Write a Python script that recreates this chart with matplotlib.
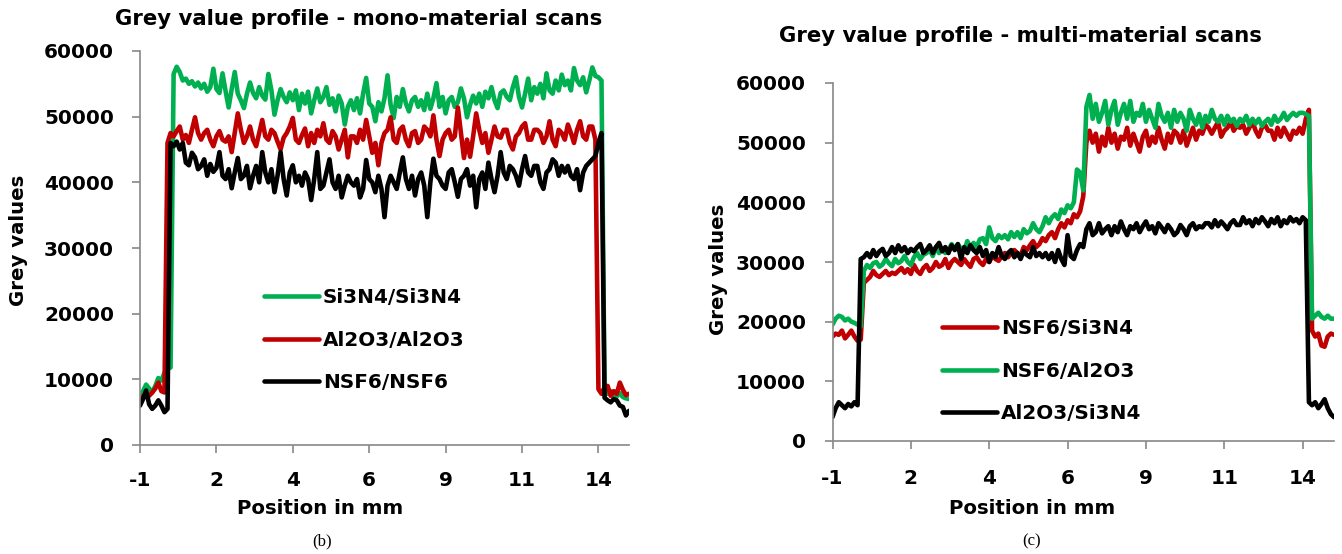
import numpy as np
import matplotlib
matplotlib.use("Agg")
import matplotlib.pyplot as plt

# ---------------- data ----------------
# sampling positions along the profile (mm), every 0.1 mm
position_mm = np.round(np.arange(-1.0, 15.0001, 0.1), 1)

tick_pos = [-1, 1.5, 4, 6.5, 9, 11.5, 14]
tick_labels = ["-1", "2", "4", "6", "9", "11", "14"]
y_ticks = [0, 10000, 20000, 30000, 40000, 50000, 60000]

# (b) mono-material scans
mono_si3n4 = [
    7500, 8200, 9200, 8600, 8000, 9000, 10200, 9800, 11000, 11600,
    11800, 56500, 57600, 56800, 55500, 55800, 55000, 55400, 54600, 55200,
    54300, 55000, 53800, 54500, 57300, 54200, 53600, 56600, 53900, 51400,
    54200, 56800, 53500, 52500, 51300, 53500, 55200, 53600, 52800, 54500,
    53200, 52600, 56500, 54000, 50300, 52500, 54200, 53000, 52200, 53700,
    52500, 54000, 51000, 53500, 52000, 53800, 50500, 52500, 54300, 52200,
    53000, 54500, 51800, 52800, 50800, 53200, 52000, 48800, 51500, 52500,
    51000, 52800, 50500, 53500, 55900, 52000, 51500, 49300, 52200, 50800,
    52800, 56300, 51800, 49800, 53000, 51500, 54200, 52000, 50800, 52500,
    53000, 51500, 52500, 51000, 53500, 51200, 52800, 55100, 51500, 53000,
    50500, 52500, 53000, 51500, 52200, 54300, 52800, 49900, 51800, 53200,
    52000, 53500, 51500, 53800, 52800, 54500, 52500, 51300, 53600, 54000,
    53000, 52500, 54500, 56000, 53000, 51400, 53500, 55800, 52500, 54500,
    53500, 55000, 52800, 56600, 54000, 53500, 55500, 54000, 56400, 54800,
    55500, 54000, 57400, 55500, 54800, 56000, 53700, 55500, 57500, 56200,
    56000, 55500, 8400, 7800, 8200, 7600, 7400, 7900, 7300, 7100,
    7000]
mono_al2o3 = [
    7000, 7400, 7800, 7500, 8000, 8600, 9500, 8200, 8000, 46000,
    47500, 47000, 47800, 48500, 46500, 47200, 46000, 48000, 49900, 47500,
    46500, 47500, 48000, 46500, 45500, 47000, 47800, 46500, 46200, 47000,
    44600, 47500, 50500, 48000, 46000, 47000, 48500, 46500, 45500, 47500,
    49500, 47000, 46500, 48000, 47500, 46200, 45000, 46800, 47500, 48500,
    49800, 46500, 46000, 47200, 48200, 45500, 47500, 46000, 48000, 47000,
    49000, 46500, 46000, 47800, 47000, 45000, 46500, 48000, 43800, 47000,
    47000, 46000, 48000, 46500, 49500, 47000, 44500, 46000, 42600, 46000,
    47500, 48000, 49900, 46500, 46000, 48000, 48500, 46500, 45500, 47500,
    47800, 46000, 46500, 48500, 48000, 47000, 50200, 46500, 44000, 46500,
    47500, 48000, 46500, 47000, 51400, 47500, 43700, 46500, 43900, 47000,
    50500, 48000, 46000, 47500, 44500, 46500, 48500, 47000, 46800, 48000,
    48000, 46000, 45000, 47000, 47500, 48500, 49000, 46500, 46500, 48000,
    48000, 47500, 46000, 47000, 49300, 46500, 45500, 48000, 47500, 46500,
    48800, 47500, 46000, 48000, 49300, 47000, 46500, 48500, 48500, 46500,
    8500, 7800, 8800, 9000, 7500, 8200, 7800, 9500, 8400, 7600,
    7800]
mono_nsf6 = [
    6000, 7000, 8300, 6200, 5500, 6000, 6800, 6000, 5000, 5500,
    46000, 45500, 46200, 45000, 46000, 43000, 42600, 44500, 43800, 42000,
    42500, 43500, 41000, 42800, 41600, 42200, 44600, 41000, 40500, 42000,
    39100, 41500, 43700, 40500, 41000, 42500, 39100, 41000, 42500, 40000,
    44600, 41500, 40000, 42000, 38500, 41000, 44600, 40500, 38000, 41500,
    42600, 40000, 41000, 39500, 41500, 40500, 37300, 40500, 44600, 39000,
    39500, 41500, 43500, 40000, 39000, 41000, 37700, 39500, 41000, 40000,
    39500, 40500, 37700, 39000, 43400, 40500, 40000, 38500, 41000, 39000,
    34700, 39500, 41000, 40000, 39000, 41500, 43800, 40500, 39000, 41000,
    38000, 40500, 41500, 39500, 34700, 40000, 43600, 41000, 40500, 39500,
    39000, 41500, 42000, 40000, 37800, 40500, 41000, 42000, 39500, 41000,
    36200, 40500, 41500, 39000, 43000, 40500, 38500, 41000, 44600, 41500,
    40500, 42500, 42000, 41000, 39500, 42000, 44000, 41500, 41000, 42500,
    42500, 40000, 39000, 41500, 42000, 43500, 43000, 41000, 42500, 41500,
    42500, 41000, 40500, 42000, 38800, 41500, 42500, 43000, 43500, 44000,
    46000, 47500, 7200, 6800, 6500, 7000, 6800, 6000, 5800, 4500,
    5200]

# (c) multi-material scans
multi_nsf6_si3n4 = [
    17500, 18000, 17800, 18500, 17200, 17800, 18500, 17500, 16800, 17000,
    26500, 27000, 27500, 28500, 27800, 27500, 28000, 28500, 27800, 28200,
    28000, 28500, 29000, 28200, 28800, 28000, 29500, 28500, 28000, 29000,
    29500, 28500, 29000, 30000, 29200, 29500, 30500, 29000, 30000, 30500,
    30000, 29500, 30500, 29800, 29200, 30500, 30800, 30000, 29500, 30500,
    30000, 31000, 30500, 30200, 31000, 31500, 30800, 31500, 32000, 31500,
    31000, 32500, 32000, 32800, 33500, 32500, 33000, 34000, 33500, 34500,
    35000, 34000, 35500, 36500, 35800, 37000, 36500, 38000, 37500, 38500,
    41000, 50000, 52000, 50000, 51500, 48500, 51000, 49500, 52500, 50000,
    51500, 49000, 51000, 50500, 52500, 49500, 51500, 50000, 48500, 51000,
    52000, 49500, 51000, 50000, 52500, 50500, 49000, 51500, 50000, 52000,
    51500, 50000, 52000, 49500, 51000, 52500, 50500, 52000, 51500, 53000,
    52500, 51500, 52500, 53500, 51000, 52000, 52500, 53500, 52000, 52800,
    52500, 53000, 51500, 52500, 53500, 52000, 51000, 52500, 53000, 52000,
    52000, 50500, 52500, 51000, 52500, 51500, 50500, 52000, 51500, 52500,
    51500, 54000, 55500, 18500, 17500, 18000, 16000, 15800, 17500, 18000,
    17800]
multi_nsf6_al2o3 = [
    19500, 20500, 21000, 20800, 20200, 20500, 20000, 19800, 19500, 19200,
    28500, 29500, 29000, 29800, 30000, 29200, 29600, 30500, 29800, 29300,
    30500, 29800, 30200, 31000, 30000, 29500, 30800, 31500, 30500, 31200,
    31500, 32000, 31000, 32500, 31500, 32200, 31500, 32000, 33000, 32200,
    33000, 32200, 31800, 33500, 32500, 33200, 32500, 33800, 34000, 33000,
    35800, 34000, 33500, 34500, 34000, 34500, 33800, 35000, 34200, 35000,
    34000, 35500, 34800, 35200, 36500, 35500, 35000, 36000, 37500, 36500,
    37500, 38000, 37200, 38800, 38200, 39500, 39000, 40000, 45500, 45000,
    42000, 56000, 58000, 54000, 56500, 53500, 55000, 57000, 53000, 55500,
    57000, 53000, 55000, 56500, 54000, 57000, 53500, 55000, 54500, 56500,
    53500, 55500, 54000, 52500, 56500, 54500, 53500, 55000, 52500, 55500,
    53500, 55000, 54000, 52000, 55500, 54000, 53000, 54800, 52500, 54500,
    53500, 55500, 54000, 53500, 54500, 53000, 54500, 53500, 54000, 52800,
    54000, 53500, 54500, 53000, 54000, 53200, 54000, 52800, 53500, 54000,
    53000, 54500, 53500, 54000, 55000, 53800, 54500, 55000, 54500, 55000,
    55000, 54800, 54500, 20500, 21000, 21500, 20800, 20500, 21000, 20500,
    20500]
multi_al2o3_si3n4 = [
    4000, 5500, 6500, 6000, 5500, 6200, 5800, 6500, 6000, 30500,
    30800, 31500, 30800, 32000, 31000, 31800, 32200, 31000, 31500, 32500,
    31500, 32800, 31800, 32500, 31500, 32200, 31800, 32500, 33000, 31500,
    32000, 32800, 31500, 32500, 33200, 31800, 32500, 31500, 32800, 32000,
    33000, 30500, 32500, 31500, 32800, 32000, 31500, 32500, 31000, 32000,
    30000, 31500, 30800, 32500, 31000, 30500, 31500, 32000, 30800, 31500,
    30500, 31800, 31200, 30800, 32500, 31000, 31500, 30800, 31500, 30500,
    31500, 30000, 32000, 30500, 29500, 34500, 31000, 30500, 32000, 33000,
    32500, 35500, 36500, 34500, 35000, 36500, 34800, 35500, 36000, 34500,
    36000, 35000, 36800, 35500, 34500, 36000, 35500, 36500, 35000, 36000,
    36800, 35500, 36000, 34800, 36500, 35800, 35000, 36200, 35500, 34500,
    35000, 36200, 35500, 34500, 36000, 36500, 35500, 36000, 35800, 36500,
    36500, 35800, 37000, 36000, 36800, 36200, 35500, 36500, 37000, 36200,
    36200, 37500, 36500, 37000, 36000, 37200, 36500, 37500, 36800, 36000,
    37200, 36500, 37500, 36000, 37000, 36500, 37500, 36800, 37200, 36500,
    37500, 37000, 6500, 6000, 6500, 5500, 6200, 7000, 5500, 4500,
    4000]

for s in (mono_si3n4, mono_al2o3, mono_nsf6, multi_nsf6_si3n4, multi_nsf6_al2o3, multi_al2o3_si3n4):
    assert len(s) == len(position_mm), len(s)

GREEN = "#00B050"
RED = "#C00000"
BLACK = "#000000"

W, H = 1342, 554
DPI = 100
fig = plt.figure(figsize=(W / DPI, H / DPI), dpi=DPI)
FONT = "DejaVu Sans"
FS = 14.4
FS_LAB = 14.2
FS_TITLE = 15.3


def px_axes(x0, x1, ytop, ybot):
    return fig.add_axes([x0 / W, 1 - ybot / H, (x1 - x0) / W, (ybot - ytop) / H])


def style(ax):
    for s in ("top", "right"):
        ax.spines[s].set_visible(False)
    for s in ("left", "bottom"):
        ax.spines[s].set_color("#888888")
        ax.spines[s].set_linewidth(1.2)
    ax.set_xlim(-1, 15)
    ax.set_ylim(0, 60000)
    ax.set_xticks(tick_pos)
    ax.set_xticklabels(tick_labels)
    ax.set_yticks(y_ticks)
    ax.set_yticklabels([str(v) for v in y_ticks])
    ax.tick_params(axis="x", direction="out", length=6, width=1.2, color="#888888",
                   pad=12, labelsize=FS)
    ax.tick_params(axis="y", direction="out", length=6, width=1.2, color="#888888",
                   pad=13, labelsize=FS)
    for lab in ax.get_xticklabels() + ax.get_yticklabels():
        lab.set_fontweight("bold")
        lab.set_fontfamily(FONT)


LW = 3.3
KW = dict(lw=LW, solid_joinstyle="round", solid_capstyle="round")
LEG = dict(loc="upper left", frameon=False, borderpad=0, borderaxespad=0,
           handlelength=2.75, handletextpad=0.2, labelspacing=1.18,
           prop={"family": FONT, "weight": "bold", "size": FS})

# ---------- panel (b) ----------
axb = px_axes(140, 629, 51, 445)
l1, = axb.plot(position_mm, mono_si3n4, color=GREEN, label="Si3N4/Si3N4", **KW)
l2, = axb.plot(position_mm, mono_al2o3, color=RED, label="Al2O3/Al2O3", **KW)
l3, = axb.plot(position_mm, mono_nsf6, color=BLACK, label="NSF6/NSF6", **KW)
style(axb)
axb.legend(handles=[l1, l2, l3], bbox_to_anchor=(264 / W, 1 - 288 / H),
           bbox_transform=fig.transFigure, **LEG)

# ---------- panel (c) ----------
axc = px_axes(832.5, 1334, 83, 441)
m1, = axc.plot(position_mm, multi_nsf6_si3n4, color=RED, label="NSF6/Si3N4", **KW)
m2, = axc.plot(position_mm, multi_nsf6_al2o3, color=GREEN, label="NSF6/Al2O3", **KW)
m3, = axc.plot(position_mm, multi_al2o3_si3n4, color=BLACK, label="Al2O3/Si3N4", **KW)
style(axc)
axc.legend(handles=[m1, m2, m3], bbox_to_anchor=(942 / W, 1 - 319 / H),
           bbox_transform=fig.transFigure, **LEG)

# ---------- tick label placement (match reference pixel positions) ----------
fig.canvas.draw()
renderer = fig.canvas.get_renderer()
for ax, y_right, x_center_y in ((axb, 114, 480), (axc, 806, 479)):
    bb = ax.get_yticklabels()[-1].get_window_extent(renderer)
    dx = bb.x1 - y_right
    ypad = 13 + dx * 72 / DPI
    ax.tick_params(axis="y", pad=max(ypad, 1))
    bbx = ax.get_xticklabels()[0].get_window_extent(renderer)
    cy = (bbx.y0 + bbx.y1) / 2
    target = H - x_center_y
    xpad = 12 + (cy - target) * 72 / DPI
    ax.tick_params(axis="x", pad=max(xpad, 1))

# ---------- texts ----------
def ftext(x, y, s, **kw):
    fig.text(x / W, 1 - y / H, s, ha="center", va="center", **kw)

ftext(359, 19, "Grey value profile - mono-material scans", family=FONT, weight="bold", fontsize=FS_TITLE)
ftext(1020, 36, "Grey value profile - multi-material scans", family=FONT, weight="bold", fontsize=FS_TITLE)
ftext(19, 240, "Grey values", family=FONT, weight="bold", fontsize=FS_LAB, rotation=90)
ftext(719, 269, "Grey values", family=FONT, weight="bold", fontsize=FS_LAB, rotation=90)
ftext(320, 508, "Position in mm", family=FONT, weight="bold", fontsize=FS_LAB)
ftext(1032, 508, "Position in mm", family=FONT, weight="bold", fontsize=FS_LAB)
ftext(322, 541, "(b)", family="Liberation Serif", fontsize=12)
ftext(1032, 541, "(c)", family="Liberation Serif", fontsize=12)

fig.savefig("out.png", dpi=DPI)
